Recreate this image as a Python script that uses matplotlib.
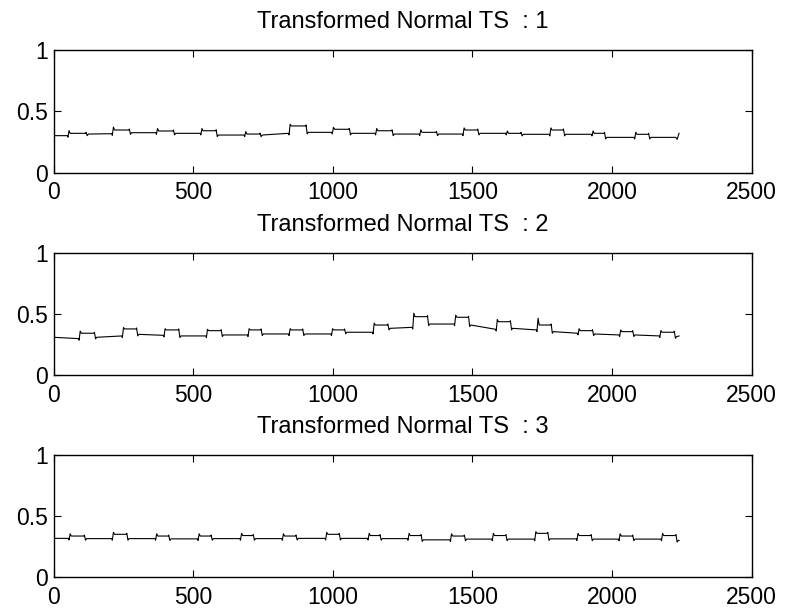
import numpy as np
import matplotlib
matplotlib.use("Agg")
import matplotlib.pyplot as plt

plt.rcParams['font.family'] = ['Liberation Sans', 'DejaVu Sans']

# ---- series 1 ----
s1_start = [52, 211, 369, 528, 685, 844, 999, 1154, 1312, 1467, 1622, 1778, 1929, 2082]
s1_end = [118, 273, 431, 584, 741, 906, 1061, 1214, 1373, 1521, 1676, 1828, 1975, 2133]
s1_before = [0.302, 0.318, 0.326, 0.321, 0.307, 0.321, 0.329, 0.321, 0.315, 0.315, 0.321, 0.313, 0.313, 0.288]
s1_level = [0.321, 0.348, 0.340, 0.342, 0.315, 0.381, 0.354, 0.342, 0.329, 0.348, 0.321, 0.348, 0.321, 0.313]
s1_peak = [0.343, 0.372, 0.360, 0.360, 0.335, 0.395, 0.370, 0.360, 0.350, 0.365, 0.340, 0.365, 0.340, 0.330]
s1_after = [0.315, 0.326, 0.321, 0.307, 0.307, 0.329, 0.321, 0.315, 0.315, 0.321, 0.313, 0.313, 0.288, 0.288]
s1_first = 0.302
s1_tail_x = [2228, 2233, 2240]
s1_tail_y = [0.288, 0.272, 0.321]

# ---- series 2 ----
s2_start = [92, 247, 396, 548, 697, 844, 996, 1145, 1287, 1437, 1586, 1732, 1879, 2028, 2172]
s2_end = [148, 299, 450, 602, 745, 894, 1044, 1199, 1341, 1488, 1638, 1784, 1932, 2076, 2225]
s2_before = [0.299, 0.321, 0.326, 0.321, 0.329, 0.337, 0.337, 0.351, 0.391, 0.418, 0.375, 0.370, 0.343, 0.329, 0.321]
s2_level = [0.343, 0.378, 0.370, 0.364, 0.370, 0.370, 0.370, 0.410, 0.478, 0.473, 0.437, 0.410, 0.364, 0.356, 0.351]
s2_peak = [0.360, 0.390, 0.380, 0.375, 0.380, 0.380, 0.380, 0.425, 0.506, 0.490, 0.455, 0.465, 0.380, 0.370, 0.365]
s2_after = [0.310, 0.334, 0.321, 0.329, 0.337, 0.337, 0.351, 0.383, 0.418, 0.410, 0.383, 0.356, 0.337, 0.329, 0.315]
s2_first = 0.310
s2_tail_x = [2240]
s2_tail_y = [0.321]

# ---- series 3 ----
s3_start = [56, 211, 366, 518, 670, 820, 975, 1127, 1270, 1422, 1572, 1724, 1875, 2026, 2178]
s3_end = [112, 264, 414, 566, 717, 870, 1025, 1171, 1318, 1473, 1622, 1772, 1927, 2076, 2231]
s3_before = [0.317, 0.315, 0.315, 0.313, 0.315, 0.315, 0.317, 0.317, 0.315, 0.305, 0.311, 0.311, 0.313, 0.311, 0.311]
s3_level = [0.336, 0.350, 0.336, 0.336, 0.340, 0.336, 0.350, 0.340, 0.340, 0.336, 0.340, 0.358, 0.340, 0.336, 0.340]
s3_peak = [0.354, 0.366, 0.354, 0.354, 0.358, 0.354, 0.366, 0.358, 0.358, 0.354, 0.358, 0.372, 0.358, 0.354, 0.358]
s3_after = [0.315, 0.315, 0.313, 0.315, 0.315, 0.317, 0.317, 0.315, 0.305, 0.311, 0.311, 0.313, 0.311, 0.311, 0.300]
s3_first = 0.317
s3_tail_x = [2240]
s3_tail_y = [0.300]

titles = ['Transformed Normal TS  : 1', 'Transformed Normal TS  : 2', 'Transformed Normal TS  : 3']
xticks = [0, 500, 1000, 1500, 2000, 2500]
yticks = [0, 0.5, 1]
ytick_labels = ['0', '0.5', '1']

# small undershoot at each step edge
DIP = 0.013


def trace(start, end, before, level, peak, after, first, tail_x, tail_y):
    xs, ys = [0], [first]
    for s, e, b, lv, pk, a in zip(start, end, before, level, peak, after):
        xs += [s - 3, s - 1, s + 3, s + 7, e - 4, e - 2, e + 2, e + 6]
        ys += [b, b - DIP, pk, lv, lv, lv + 0.008, a - DIP, a]
    return xs + tail_x, ys + tail_y


series = [
    trace(s1_start, s1_end, s1_before, s1_level, s1_peak, s1_after, s1_first, s1_tail_x, s1_tail_y),
    trace(s2_start, s2_end, s2_before, s2_level, s2_peak, s2_after, s2_first, s2_tail_x, s2_tail_y),
    trace(s3_start, s3_end, s3_before, s3_level, s3_peak, s3_after, s3_first, s3_tail_x, s3_tail_y),
]

fig = plt.figure(figsize=(7.86, 6.09), dpi=100)
bottoms = [0.7164, 0.3837, 0.0521]
for (xs, ys), title, b in zip(series, titles, bottoms):
    ax = fig.add_axes([0.0683, b, 0.888, 0.2015])
    ax.plot(xs, ys, color='black', linewidth=0.8)
    ax.set_xlim(0, 2500)
    ax.set_ylim(0, 1)
    ax.set_xticks(xticks)
    ax.set_yticks(yticks)
    ax.set_yticklabels(ytick_labels)
    ax.tick_params(direction='in', top=True, right=True, length=5, width=0.8,
                   labelsize=16.5, colors='black')
    ax.tick_params(axis='x', pad=6)
    ax.tick_params(axis='y', pad=4)
    for sp in ax.spines.values():
        sp.set_linewidth(1.0)
    ax.set_title(title, fontsize=17, pad=15.6)

fig.savefig('out.png', dpi=100)
